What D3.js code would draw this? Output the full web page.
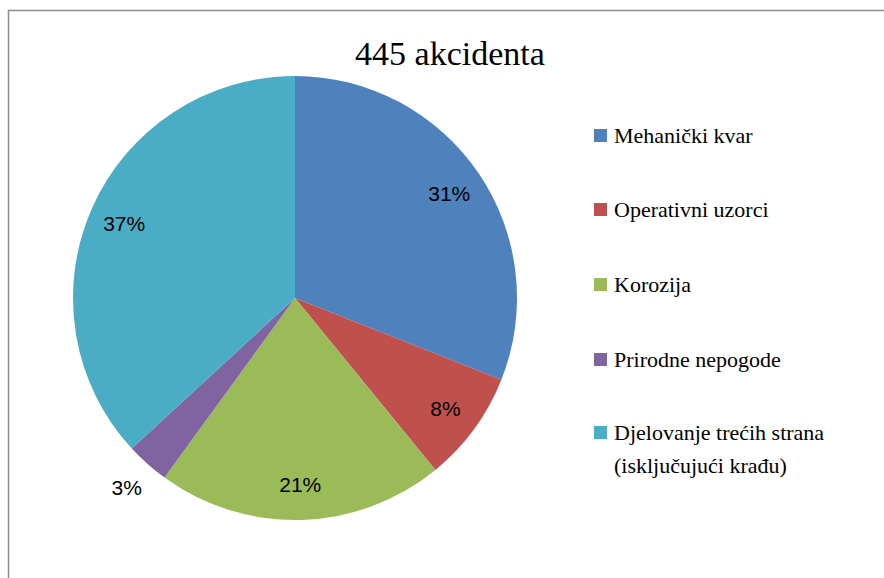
<!DOCTYPE html>
<html>
<head>
<meta charset="utf-8">
<script src="https://cdn.jsdelivr.net/npm/d3@7"></script>
</head>
<body style="margin:0">
<script>
// data (counts out of 445 accidents)
var categories = ["Mehanički kvar", "Operativni uzorci", "Korozija", "Prirodne nepogode", "Djelovanje trećih strana (isključujući krađu)"];
var legendLines = [["Mehanički kvar"], ["Operativni uzorci"], ["Korozija"], ["Prirodne nepogode"], ["Djelovanje trećih strana", "(isključujući krađu)"]];
var counts = [138, 36, 93, 14, 164];
var colors = ["#4F81BD", "#C0504D", "#9BBB59", "#8064A2", "#4BACC6"];
var title = "445 akcidenta";

var width = 884, height = 578;
var cx = 295, cy = 298, radius = 222;

var svg = d3.select("body").append("svg")
    .attr("width", width)
    .attr("height", height)
    .style("display", "block");

// chart frame (runs off the right and bottom edges)
svg.append("rect")
    .attr("x", 8.5)
    .attr("y", 10.5)
    .attr("width", 1000)
    .attr("height", 1000)
    .attr("fill", "none")
    .attr("stroke", "#8c8c8c")
    .attr("stroke-width", 1.5);

svg.append("text")
    .attr("x", 450)
    .attr("y", 65)
    .attr("text-anchor", "middle")
    .style("font", "34px 'Liberation Serif'")
    .attr("fill", "#000")
    .text(title);

var total = d3.sum(counts);
var data = counts.map(function (v, i) {
    return { name: categories[i], value: v, color: colors[i] };
});

var getAngles = d3.pie()
    .sort(null)
    .value(function (d) { return d.value; });

var arcs = getAngles(data);
var getArc = d3.arc().innerRadius(0).outerRadius(radius);

var pieG = svg.append("g")
    .attr("transform", "translate(" + cx + "," + cy + ")");

pieG.selectAll("path")
    .data(arcs)
    .join("path")
    .attr("fill", function (d) { return d.data.color; })
    .attr("d", getArc);

// labels: inside for big slices, outside for tiny ones
var insideArc = d3.arc().innerRadius(radius * 0.84).outerRadius(radius * 0.84);
var outsideArc = d3.arc().innerRadius(radius * 1.14).outerRadius(radius * 1.14);

pieG.selectAll("text.pct")
    .data(arcs)
    .join("text")
    .attr("class", "pct")
    .attr("transform", function (d) {
        var small = d.data.value / total < 0.05;
        var p = (small ? outsideArc : insideArc).centroid(d);
        return "translate(" + p[0] + "," + p[1] + ")";
    })
    .attr("text-anchor", "middle")
    .attr("dy", "0.36em")
    .style("font", "21px 'Liberation Sans'")
    .attr("fill", "#000")
    .text(function (d) { return Math.round(d.data.value / total * 100) + "%"; });

// legend
var legendRows = [143, 217, 292, 367, 440];
var legend = svg.append("g");

var items = legend.selectAll("g")
    .data(data)
    .join("g")
    .attr("transform", function (d, i) { return "translate(594," + legendRows[i] + ")"; });

items.append("rect")
    .attr("x", 0)
    .attr("y", -14)
    .attr("width", 13)
    .attr("height", 13)
    .attr("fill", function (d) { return d.color; });

items.append("text")
    .attr("x", 20)
    .attr("y", 0)
    .style("font", "22px 'Liberation Serif'")
    .attr("fill", "#000")
    .selectAll("tspan")
    .data(function (d, i) { return legendLines[i]; })
    .join("tspan")
    .attr("x", 20)
    .attr("dy", function (d, j) { return j === 0 ? 0 : 33; })
    .text(function (d) { return d; });
</script>
</body>
</html>
